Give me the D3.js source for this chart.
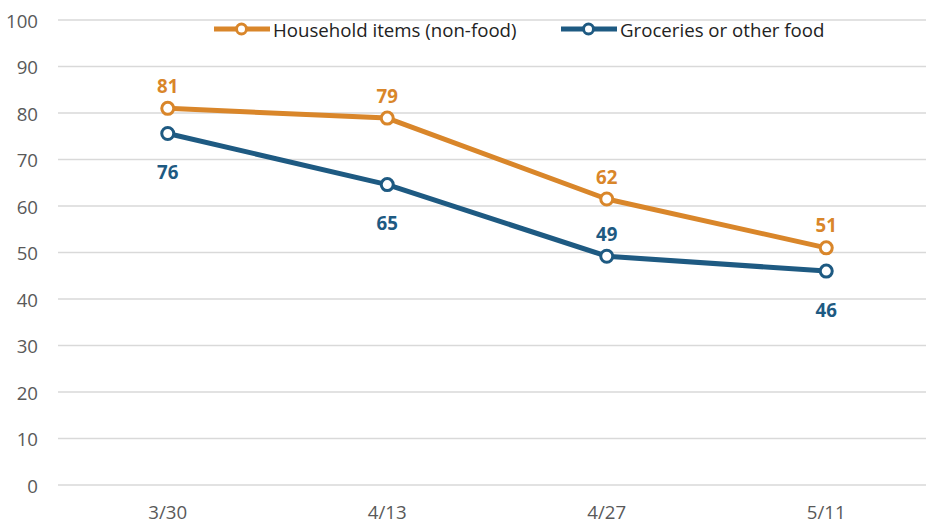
<!DOCTYPE html>
<html>
<head>
<meta charset="utf-8">
<script src="https://cdn.jsdelivr.net/npm/d3@7"></script>
<style>
  html, body { margin: 0; padding: 0; background: #fff; }
  svg { display: block; font-family: "Open Sans", "Noto Sans", sans-serif; }
</style>
</head>
<body>
<svg id="chart" width="926" height="523"></svg>
<script>
const categories = ["3/30", "4/13", "4/27", "5/11"];
const householdValues = [81.0, 78.9, 61.5, 51.0];
const groceriesValues = [75.6, 64.6, 49.2, 46.0];
const householdLabelPos = ["above", "above", "above", "above"];
const groceriesLabelPos = ["below", "below", "above", "below"];
const yTicks = [0, 10, 20, 30, 40, 50, 60, 70, 80, 90, 100];
const seriesNames = ["Household items (non-food)", "Groceries or other food"];

(function () {
const colors = ["#D9862A", "#1E5A82"];
const fs = 18.67;
const series = [
  { name: seriesNames[0], values: householdValues, pos: householdLabelPos, color: colors[0] },
  { name: seriesNames[1], values: groceriesValues, pos: groceriesLabelPos, color: colors[1] }
];

const svg = d3.select("#chart");
const W = 926;
const mLeft = 58, mRight = 936, mTop = 20, mBottom = 485;

const x = d3.scaleBand().domain(categories).range([mLeft, mRight]);
const y = d3.scaleLinear().domain([0, 100]).range([mBottom, mTop]);
const cx = c => x(c) + x.bandwidth() / 2;

svg.append("g").selectAll("line").data(yTicks).join("line")
  .attr("x1", mLeft).attr("x2", W)
  .attr("y1", d => y(d)).attr("y2", d => y(d))
  .attr("stroke", "#d9d9d9").attr("stroke-width", 1.6);

svg.append("g").selectAll("text").data(yTicks).join("text")
  .attr("x", 38).attr("y", d => y(d))
  .attr("text-anchor", "end").attr("dominant-baseline", "central")
  .attr("font-size", fs).attr("fill", "#595959")
  .text(d => d);

svg.append("g").selectAll("text").data(categories).join("text")
  .attr("x", d => cx(d)).attr("y", 511.5)
  .attr("text-anchor", "middle").attr("dominant-baseline", "central")
  .attr("font-size", fs).attr("fill", "#595959")
  .text(d => d);

const line = d3.line()
  .x((d, i) => cx(categories[i]))
  .y(d => y(d));

series.forEach(s => {
  const g = svg.append("g");
  g.append("path").datum(s.values)
    .attr("d", line).attr("fill", "none")
    .attr("stroke", s.color).attr("stroke-width", 5)
    .attr("stroke-linejoin", "round");
  g.selectAll("circle").data(s.values).join("circle")
    .attr("cx", (d, i) => cx(categories[i]))
    .attr("cy", d => y(d))
    .attr("r", 6).attr("fill", "#fff")
    .attr("stroke", s.color).attr("stroke-width", 3);
  g.selectAll("text").data(s.values).join("text")
    .attr("x", (d, i) => cx(categories[i]))
    .attr("y", (d, i) => y(d) + (s.pos[i] === "above" ? -23 : 38))
    .attr("text-anchor", "middle").attr("dominant-baseline", "central")
    .attr("font-size", fs).attr("font-weight", "bold")
    .attr("fill", s.color)
    .text(d => Math.round(d));
});

const legendItems = [
  { x0: 214, name: seriesNames[0], color: colors[0] },
  { x0: 561, name: seriesNames[1], color: colors[1] }
];
const ly = 29;
legendItems.forEach(l => {
  const g = svg.append("g");
  g.append("line").attr("x1", l.x0).attr("x2", l.x0 + 56)
    .attr("y1", ly).attr("y2", ly)
    .attr("stroke", l.color).attr("stroke-width", 5);
  g.append("circle").attr("cx", l.x0 + 27.5).attr("cy", ly).attr("r", 5)
    .attr("fill", "#fff").attr("stroke", l.color).attr("stroke-width", 3);
  g.append("text").attr("x", l.x0 + 59).attr("y", ly)
    .attr("dominant-baseline", "central")
    .attr("font-size", fs).attr("fill", "#222")
    .text(l.name);
});
})();
</script>
</body>
</html>
